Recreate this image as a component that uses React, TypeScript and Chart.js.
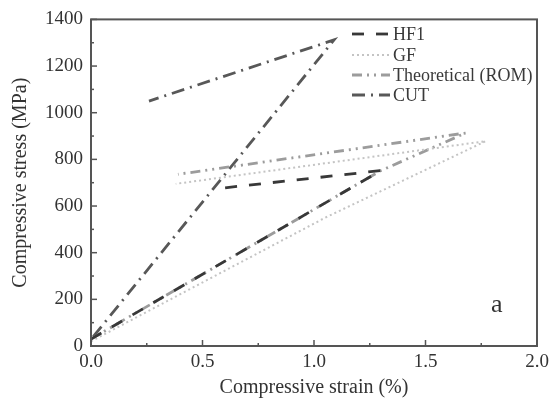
import React, { useEffect, useRef } from "react";
import { Chart, registerables } from "chart.js";

Chart.register(...registerables);

const seriesNames = ["HF1", "GF", "Theoretical (ROM)", "CUT"];
const hf1X = [0, 1.3, 0.59];
const hf1Y = [30, 752, 677];
const gfX = [0, 1.05, 1.77, 0.38];
const gfY = [20, 550, 878, 695];
const romX = [0, 1.3, 1.68, 0.39];
const romY = [30, 752, 913, 736];
const cutX = [0.01, 1.09, 0.26];
const cutY = [40, 1312, 1050];

const xTickValues = [0, 0.5, 1.0, 1.5, 2.0];
const xTickLabels = ["0.0", "0.5", "1.0", "1.5", "2.0"];
const yTickValues = [0, 200, 400, 600, 800, 1000, 1200, 1400];
const yTickLabels = ["0", "200", "400", "600", "800", "1000", "1200", "1400"];

const FONT = "'Liberation Serif', 'DejaVu Serif', serif";

const colors = ["#383838", "#c4c4c4", "#9c9c9c", "#585858"];
const dashes = [
  [12, 12],
  [2, 3],
  [10, 5, 2, 5, 2, 5],
  [13, 6, 2, 6],
];

function pts(xs: number[], ys: number[]) {
  return xs.map((x, i) => ({ x, y: ys[i] }));
}

const framePlugin = {
  id: "framePlugin",
  afterDraw(chart: any) {
    const { ctx, chartArea } = chart;
    const { left, right, top, bottom } = chartArea;
    const xs = chart.scales.x;
    const ys = chart.scales.y;
    ctx.save();
    ctx.setLineDash([]);
    ctx.strokeStyle = "#555";
    ctx.lineWidth = 2;
    ctx.strokeRect(left, top, right - left, bottom - top);
    ctx.lineWidth = 1.5;
    for (let v = 0; v <= 2.0001; v += 0.25) {
      const px = xs.getPixelForValue(v);
      const major = Math.abs(v * 2 - Math.round(v * 2)) < 1e-6;
      const len = major ? 6 : 3;
      ctx.beginPath();
      ctx.moveTo(px, bottom);
      ctx.lineTo(px, bottom - len);
      ctx.stroke();
    }
    for (let v = 0; v <= 1400; v += 100) {
      const py = ys.getPixelForValue(v);
      const major = v % 200 === 0;
      const len = major ? 6 : 3;
      ctx.beginPath();
      ctx.moveTo(left, py);
      ctx.lineTo(left + len, py);
      ctx.stroke();
    }
    const ds = chart.data.datasets;
    const lx0 = 352;
    const lx1 = 390;
    const ly = [34, 55, 75, 95];
    ctx.font = `18px ${FONT}`;
    ctx.textBaseline = "middle";
    ctx.textAlign = "left";
    ds.forEach((d: any, i: number) => {
      ctx.strokeStyle = d.borderColor;
      ctx.lineWidth = d.borderWidth;
      ctx.setLineDash(d.borderDash);
      ctx.beginPath();
      ctx.moveTo(lx0, ly[i]);
      ctx.lineTo(lx1, ly[i]);
      ctx.stroke();
      ctx.fillStyle = "#3a3a3a";
      ctx.fillText(d.label, lx1 + 3, ly[i] + 1);
    });
    ctx.setLineDash([]);
    ctx.font = `26px ${FONT}`;
    ctx.fillStyle = "#333";
    ctx.fillText("a", 491, 305);
    ctx.restore();
  },
};

export default function App() {
  const ref = useRef<HTMLCanvasElement | null>(null);
  useEffect(() => {
    if (!ref.current) return;
    const allX = [hf1X, gfX, romX, cutX];
    const allY = [hf1Y, gfY, romY, cutY];
    const chart = new Chart(ref.current, {
      type: "scatter",
      data: {
        datasets: seriesNames.map((name, i) => ({
          label: name,
          data: pts(allX[i], allY[i]),
          showLine: true,
          borderColor: colors[i],
          backgroundColor: colors[i],
          borderWidth: i === 1 ? 2 : 2.8,
          borderDash: dashes[i],
          pointRadius: 0,
          fill: false,
          tension: 0,
        })),
      },
      options: {
        animation: false,
        responsive: false,
        maintainAspectRatio: false,
        layout: { padding: { top: 17, right: 21, left: 0, bottom: 0 } },
        plugins: { legend: { display: false }, tooltip: { enabled: false } },
        scales: {
          x: {
            type: "linear",
            min: 0,
            max: 2,
            grid: { display: false, drawTicks: false },
            border: { display: false },
            afterBuildTicks: (s: any) => {
              s.ticks = xTickValues.map((v) => ({ value: v }));
            },
            afterFit: (s: any) => {
              s.height = 54;
            },
            ticks: {
              padding: 5,
              color: "#333",
              font: { family: FONT, size: 19 },
              callback: (v: any) => xTickLabels[xTickValues.indexOf(Number(v))] ?? "",
            },
            title: {
              display: true,
              text: "Compressive strain (%)",
              color: "#333",
              font: { family: FONT, size: 20 },
              padding: { top: 0, bottom: 0 },
            },
          },
          y: {
            type: "linear",
            min: 0,
            max: 1400,
            grid: { display: false, drawTicks: false },
            border: { display: false },
            afterBuildTicks: (s: any) => {
              s.ticks = yTickValues.map((v) => ({ value: v }));
            },
            afterFit: (s: any) => {
              s.width = 91;
            },
            ticks: {
              padding: 8,
              color: "#333",
              font: { family: FONT, size: 19 },
              callback: (v: any) => yTickLabels[yTickValues.indexOf(Number(v))] ?? "",
            },
            title: {
              display: true,
              text: "Compressive stress (MPa)",
              color: "#333",
              font: { family: FONT, size: 20 },
              padding: { top: 9, bottom: 0 },
            },
          },
        },
      },
      plugins: [framePlugin],
    });
    return () => chart.destroy();
  }, []);
  return (
    <div style={{ position: "fixed", left: 0, top: 0, width: 558, height: 400, background: "#fff" }}>
      <canvas ref={ref} width={558} height={400} style={{ width: 558, height: 400 }} />
    </div>
  );
}
